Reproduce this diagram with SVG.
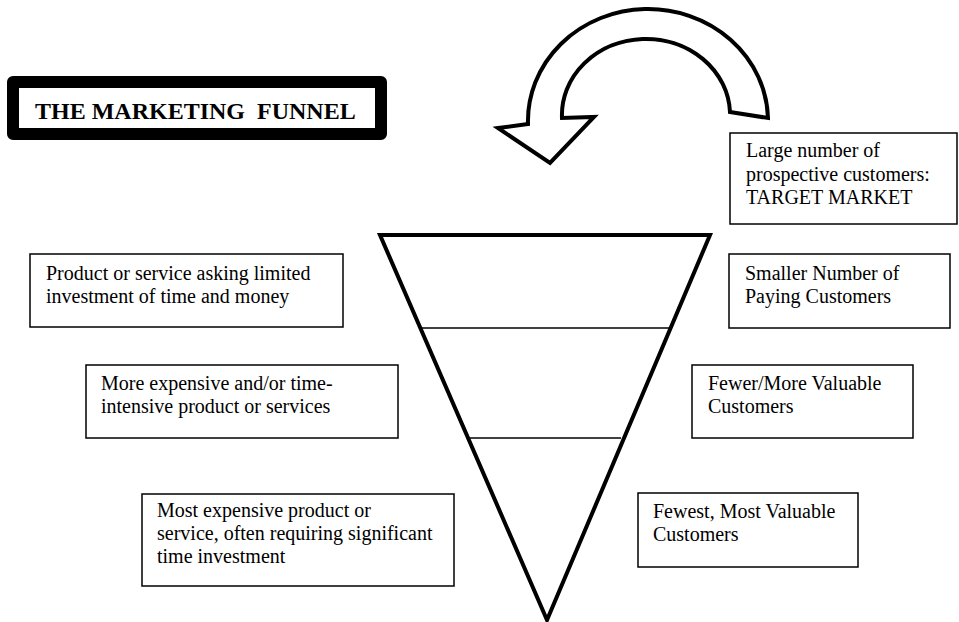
<svg xmlns="http://www.w3.org/2000/svg" width="959" height="622" viewBox="0 0 959 622">
<style>
  .box { fill: #fff; stroke: #000; stroke-width: 1.5; }
  .t { font-family: "Liberation Serif", "Times New Roman", serif; font-size: 20px; fill: #000; }
  .title { font-family: "Liberation Serif", "Times New Roman", serif; font-size: 24px; font-weight: bold; fill: #000; }
  .thick { fill: none; stroke: #000; stroke-width: 4; stroke-linejoin: miter; }
  .thin { stroke: #000; stroke-width: 1.5; }
</style>
<rect width="959" height="622" fill="#fff"/>

<g id="title">
  <rect x="13" y="82" width="368" height="52" fill="#fff" stroke="#000" stroke-width="12" stroke-linejoin="round"/>
  <text class="title" x="35" y="119" xml:space="preserve">THE MARKETING  FUNNEL</text>
</g>

<g id="cycle-arrow">
  <path d="M 498,128 L 528,124 A 120 112 0 0 1 768,118 L 730,112 A 84 76 0 0 0 562,118 L 594,117 L 550,163 Z" fill="#fff" stroke="#000" stroke-width="4" stroke-linejoin="miter"/>
</g>

<g id="funnel">
  <path class="thick" d="M 380,235 L 710,235 L 547,620 Z" fill="#fff"/>
  <line class="thin" x1="421" y1="328" x2="672" y2="328"/>
  <line class="thin" x1="470" y1="438" x2="621" y2="438"/>
</g>

<g id="target-market">
  <rect class="box" x="730" y="133" width="227" height="91"/>
  <text class="t" x="746" y="157">Large number of</text>
  <text class="t" x="746" y="181">prospective customers:</text>
  <text class="t" x="746" y="204">TARGET MARKET</text>
</g>

<g id="product-limited">
  <rect class="box" x="30" y="254" width="313" height="73"/>
  <text class="t" x="46" y="280">Product or service asking limited</text>
  <text class="t" x="46" y="303">investment of time and money</text>
</g>

<g id="product-more">
  <rect class="box" x="86" y="365" width="312" height="73"/>
  <text class="t" x="101" y="390">More expensive and/or time-</text>
  <text class="t" x="101" y="413">intensive product or services</text>
</g>

<g id="product-most">
  <rect class="box" x="142" y="494" width="312" height="92"/>
  <text class="t" x="157" y="517">Most expensive product or</text>
  <text class="t" x="157" y="540">service, often requiring significant</text>
  <text class="t" x="157" y="563">time investment</text>
</g>

<g id="paying-customers">
  <rect class="box" x="729" y="254" width="221" height="74"/>
  <text class="t" x="745" y="280">Smaller Number of</text>
  <text class="t" x="745" y="303">Paying Customers</text>
</g>

<g id="valuable-customers">
  <rect class="box" x="692" y="365" width="221" height="73"/>
  <text class="t" x="708" y="390">Fewer/More Valuable</text>
  <text class="t" x="708" y="413">Customers</text>
</g>

<g id="most-valuable-customers">
  <rect class="box" x="638" y="493" width="220" height="74"/>
  <text class="t" x="653" y="518">Fewest, Most Valuable</text>
  <text class="t" x="653" y="541">Customers</text>
</g>

<g id="connectors"></g>
</svg>
